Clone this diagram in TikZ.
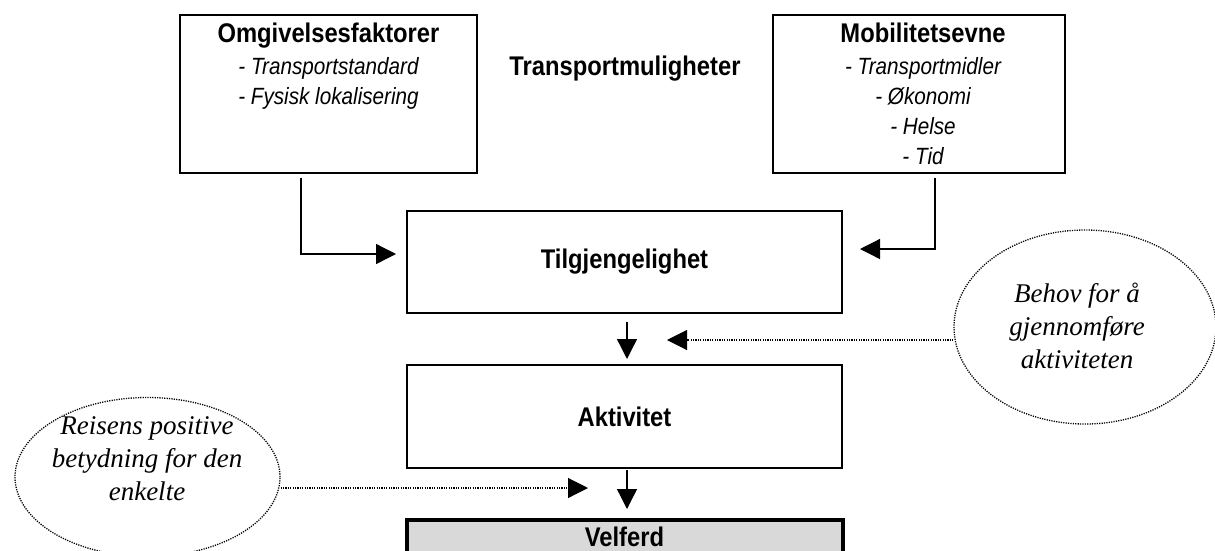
\documentclass[tikz,border=0pt]{standalone}
\usepackage{fontspec}
\setmainfont{Liberation Serif}
\newfontfamily\arialn[FakeStretch=0.88]{Liberation Sans}
\usetikzlibrary{positioning}
\usetikzlibrary{arrows.meta}
\usetikzlibrary{shapes.geometric}
\usetikzlibrary{calc}
\definecolor{velferdgraa}{RGB}{217,217,217}

\begin{document}
\begin{tikzpicture}[x=1pt,y=-1pt,
      boks/.style={draw, line width=2pt, inner sep=0pt,
         font=\arialn\fontsize{27}{30}\selectfont\bfseries},
      liste/.style={align=center, inner sep=0pt,
         font=\arialn\fontsize{23.5}{30}\selectfont},
      sky/.style={ellipse, draw, line width=1.3pt, dash pattern=on 1.2pt off 1.2pt},
      skytekst/.style={align=center, inner sep=0pt,
         font=\fontsize{27}{33}\selectfont\itshape},
      pil/.style={line width=1.3pt, -{Triangle[length=20pt,width=20pt]}},
      prikkpil/.style={line width=1.1pt, dash pattern=on 1.2pt off 1.2pt,
         -{Triangle[length=20pt,width=20pt,sep=0pt]}}]
   \useasboundingbox (0,0) rectangle (1215,550);

   % faktorer oppe
   \node[boks, minimum width=297pt, minimum height=158pt] (omg) at (328.5,94) {};
   \node[boks, minimum width=292pt, minimum height=158pt] (mob) at (919,94) {};

   \node[liste, below=9pt of omg.north] (omgtekst)
      {{\fontsize{27}{30}\selectfont\bfseries Omgivelsesfaktorer}\\[2pt]
       \itshape - Transportstandard\\ \itshape - Fysisk lokalisering};
   \node[liste, below=9pt of mob.north, xshift=4pt] (mobtekst)
      {{\fontsize{27}{30}\selectfont\bfseries Mobilitetsevne}\\[2pt]
       \itshape - Transportmidler\\ \itshape - \O{}konomi\\
       \itshape - Helse\\ \itshape - Tid};

   \node[font=\arialn\fontsize{27}{30}\selectfont\bfseries] (trm) at (625,69)
      {Transportmuligheter};

   % midtre kjede
   \node[boks, minimum width=435pt, minimum height=102pt] (tilg) at (624.5,262)
      {Tilgjengelighet};
   \node[boks, minimum width=435pt, minimum height=103pt, below=50pt of tilg] (akt)
      {Aktivitet};
   \node[boks, line width=4pt, fill=velferdgraa, minimum width=436pt,
      minimum height=34pt, below=49pt of akt] (velf) {Velferd};

   % skyer
   \node[sky, minimum width=262pt, minimum height=194pt] (behov) at (1085,327) {};
   \node[skytekst] (behovtekst) at (1077,326)
      {Behov for å\\ gjennomføre\\ aktiviteten};
   \node[sky, minimum width=265pt, minimum height=159pt] (reis) at (147.5,477) {};
   \node[skytekst] (reistekst) at (147,459)
      {Reisens positive\\ betydning for den\\ enkelte};

   \coordinate (behovpil) at (667,340);
   \coordinate (reispil) at (588,488);

   % piler
   \draw[pil] ([xshift=-27.5pt,yshift=-4pt]omg.south)
      |- ([xshift=-10pt,yshift=8pt]tilg.west);
   \draw[pil] ([xshift=16pt,yshift=-4pt]mob.south)
      |- ([xshift=17pt,yshift=13pt]tilg.east);
   \draw[pil] ([xshift=2.5pt,yshift=-8pt]tilg.south)
      -- ([xshift=2.5pt,yshift=5pt]akt.north);
   \draw[pil] ([xshift=2.5pt,yshift=-1pt]akt.south)
      -- ([xshift=2.5pt,yshift=9pt]velf.north);
   \draw[prikkpil] (behov.west |- behovpil) -- (behovpil);
   \draw[prikkpil] (reis.east |- reispil) -- (reispil);
\end{tikzpicture}
\end{document}
